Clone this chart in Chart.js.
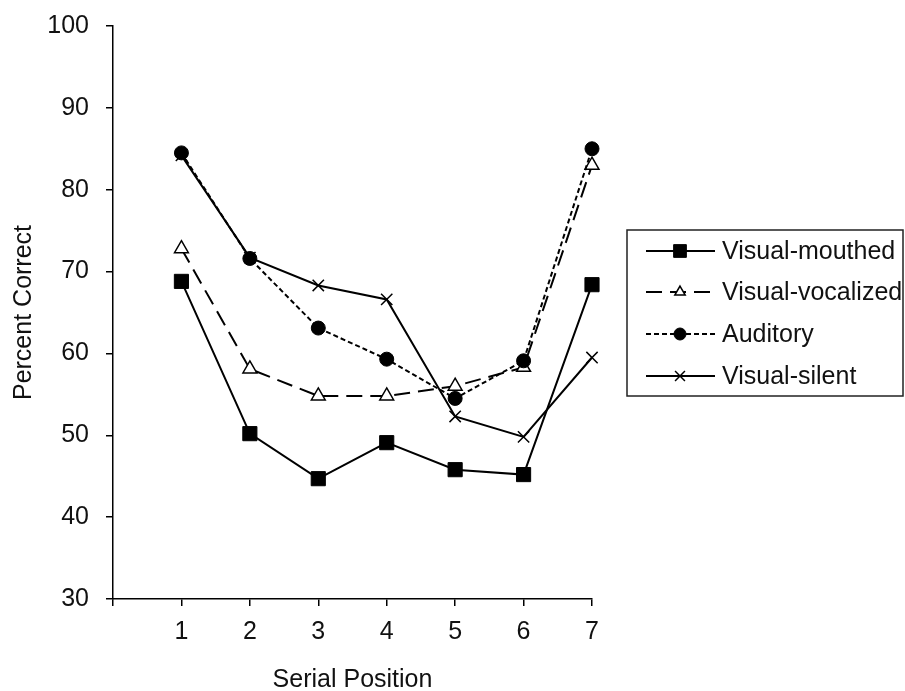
<!DOCTYPE html>
<html>
<head>
<meta charset="utf-8">
<script src="https://cdn.jsdelivr.net/npm/chart.js@4/dist/chart.umd.min.js"></script>
<style>
  body { margin: 0; background: #fff; }
  #wrap { width: 905px; height: 691px; }
</style>
</head>
<body>
<div id="wrap"><canvas id="serialChart" width="905" height="691"></canvas></div>
<script>
// serial position data (percent correct)
const positions = [1, 2, 3, 4, 5, 6, 7];
const visualMouthed = [68.8, 50.2, 44.7, 49.1, 45.8, 45.2, 68.4];
const visualVocalized = [72.8, 58.1, 54.8, 54.8, 56.0, 58.3, 83.0];
const auditory = [84.5, 71.6, 63.1, 59.3, 54.5, 59.1, 85.0];
const visualSilent = [84.2, 71.7, 68.3, 66.6, 52.3, 49.8, 59.5];
const yTicks = [30, 40, 50, 60, 70, 80, 90, 100];
const xTicks = [0, 1, 2, 3, 4, 5, 6, 7];

const FONT = "'Liberation Sans', Arial, sans-serif";

function pts(vals) {
    return positions.map((p, i) => ({ x: p, y: vals[i] }));
}

let datasets = [
    {
        label: 'Visual-mouthed',
        data: pts(visualMouthed),
        borderColor: '#000',
        backgroundColor: '#000',
        borderWidth: 2,
        pointStyle: 'rect',
        pointRadius: 10,
        pointBorderWidth: 1,
        legendRadius: 9,
        order: 4
    },
    {
        label: 'Visual-vocalized',
        data: pts(visualVocalized),
        borderColor: '#000',
        backgroundColor: '#fff',
        borderWidth: 2,
        borderDash: [16, 8],
        pointStyle: 'triangle',
        pointRadius: 8,
        pointBorderWidth: 1.5,
        legendRadius: 6,
        order: 3
    },
    {
        label: 'Auditory',
        data: pts(auditory),
        borderColor: '#000',
        backgroundColor: '#000',
        borderWidth: 2,
        borderDash: [5, 3],
        pointStyle: 'circle',
        pointRadius: 7,
        pointBorderWidth: 1,
        legendRadius: 6,
        order: 1
    },
    {
        label: 'Visual-silent',
        data: pts(visualSilent),
        borderColor: '#000',
        backgroundColor: '#000',
        borderWidth: 2,
        pointStyle: 'crossRot',
        pointRadius: 8,
        pointBorderWidth: 1.5,
        legendRadius: 7,
        order: 2
    }
];
datasets.forEach(d => {
    d.fill = false;
    d.tension = 0;
    d.clip = false;
    d.pointBackgroundColor = d.backgroundColor;
    d.pointBorderColor = '#000';
});

// boxed legend with line + marker samples, drawn after the chart
const boxLegend = {
    id: 'boxLegend',
    afterDraw(chart) {
        const ctx = chart.ctx;
        const bx = 627, by = 230, bw = 276, bh = 166;
        const rows = [251, 292, 334, 376];
        ctx.save();
        ctx.strokeStyle = '#222';
        ctx.lineWidth = 1.5;
        ctx.strokeRect(bx, by, bw, bh);
        chart.data.datasets.forEach((ds, i) => {
            let y = rows[i];
            ctx.save();
            ctx.strokeStyle = '#000';
            ctx.lineWidth = ds.borderWidth;
            ctx.setLineDash(ds.borderDash || []);
            ctx.beginPath();
            ctx.moveTo(646, y);
            ctx.lineTo(715, y);
            ctx.stroke();
            ctx.setLineDash([]);
            ctx.fillStyle = ds.backgroundColor;
            ctx.lineWidth = ds.pointBorderWidth;
            Chart.helpers.drawPoint(ctx, { pointStyle: ds.pointStyle, radius: ds.legendRadius, borderWidth: ds.pointBorderWidth }, 680, y);
            ctx.restore();
            ctx.fillStyle = '#111';
            ctx.font = '25px ' + FONT;
            ctx.textAlign = 'left';
            ctx.textBaseline = 'middle';
            ctx.fillText(ds.label, 722, y + 1);
        });
        ctx.restore();
    }
};

let ctx = document.getElementById('serialChart');
let serialChart = new Chart(ctx, {
    type: 'line',
    data: { datasets: datasets },
    options: {
        responsive: false,
        animation: false,
        events: [],
        layout: { padding: { top: 26, right: 313, left: 0, bottom: 0 } },
        plugins: {
            legend: { display: false },
            tooltip: { enabled: false }
        },
        scales: {
            x: {
                type: 'linear',
                min: 0,
                max: 7,
                afterBuildTicks: s => { s.ticks = xTicks.map(v => ({ value: v })); },
                afterFit: s => { s.height = 92; s.paddingLeft = 0; s.paddingRight = 0; },
                border: { display: true, color: '#000', width: 1.5 },
                grid: { drawOnChartArea: false, drawTicks: true, tickLength: 7, color: '#000', lineWidth: 1.5 },
                ticks: {
                    color: '#111',
                    padding: 11,
                    maxRotation: 0,
                    font: { size: 25, family: FONT },
                    callback: v => (v === 0 ? '' : v)
                },
                title: {
                    display: true,
                    text: 'Serial Position',
                    color: '#111',
                    padding: { top: 0, bottom: -2 },
                    font: { size: 25, family: FONT, lineHeight: 1 }
                }
            },
            y: {
                min: 30,
                max: 100,
                afterBuildTicks: s => { s.ticks = yTicks.map(v => ({ value: v })); },
                afterFit: s => { s.width = 113; s.paddingTop = 0; s.paddingBottom = 0; },
                border: { display: true, color: '#000', width: 1.5 },
                grid: { drawOnChartArea: false, drawTicks: true, tickLength: 7, color: '#000', lineWidth: 1.5 },
                ticks: {
                    color: '#111',
                    padding: 17,
                    font: { size: 25, family: FONT }
                },
                title: {
                    display: true,
                    text: 'Percent Correct',
                    color: '#111',
                    padding: { top: 9, bottom: 0 },
                    font: { size: 25, family: FONT }
                }
            }
        }
    },
    plugins: [boxLegend]
});
</script>
</body>
</html>
